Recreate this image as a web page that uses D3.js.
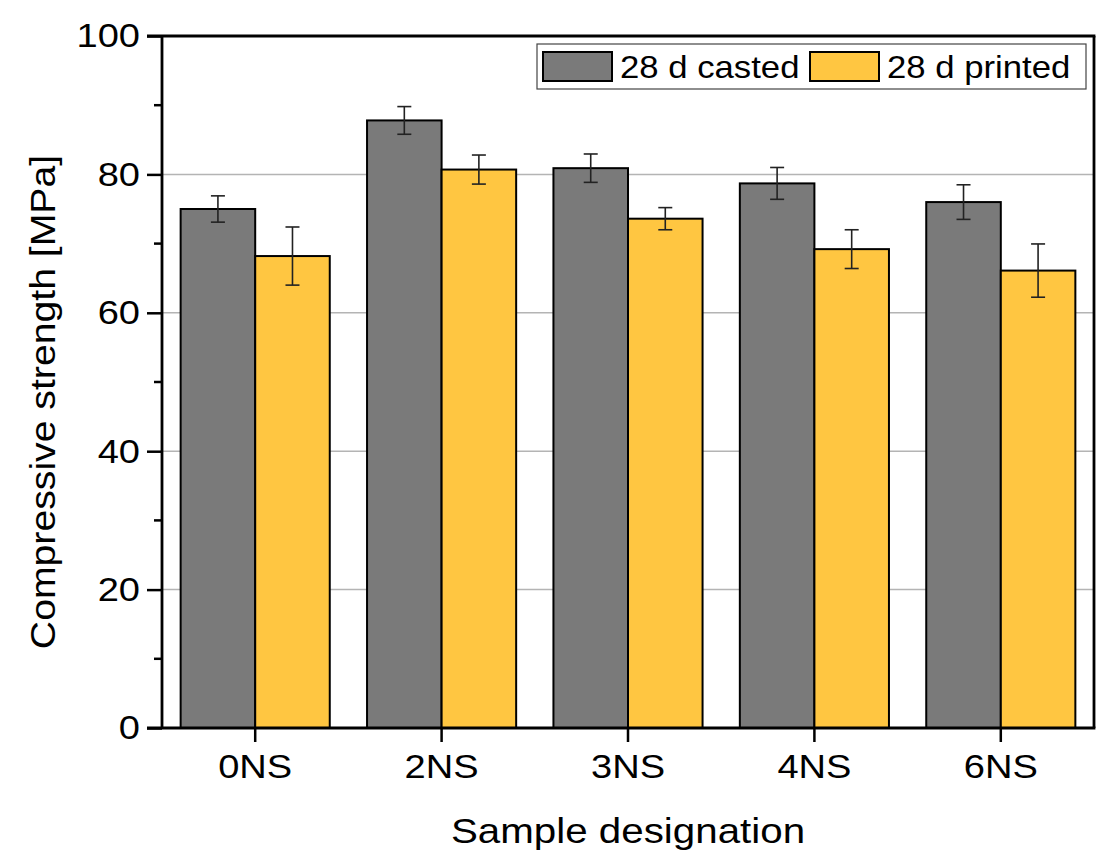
<!DOCTYPE html>
<meta charset="utf-8">
<style>
body { margin: 0; background: #fff; }
text { font-family: "Liberation Sans", Arial, sans-serif; fill: #000; }
</style>
<svg width="1100" height="855"></svg>
<script src="https://d3js.org/d3.v7.min.js"></script>
<script>

var categories = ["0NS", "2NS", "3NS", "4NS", "6NS"];
var seriesNames = ["28 d casted", "28 d printed"];
var casted = [75.0, 87.8, 80.9, 78.7, 76.0];
var castedErr = [1.9, 2.0, 2.05, 2.3, 2.5];
var printed = [68.2, 80.7, 73.6, 69.2, 66.1];
var printedErr = [4.2, 2.1, 1.6, 2.8, 3.85];
var yTicks = [0, 20, 40, 60, 80, 100];
var colors = ["#7a7a7a", "#ffc641"];

var svg = d3.select("svg");

var plotL = 162, plotR = 1094, plotT = 36, plotB = 728;
var stretch = 1.12; // reference text looks a bit wide

var x = d3.scaleBand()
  .domain(categories)
  .range([plotL, plotR])
  .paddingInner(0.2)
  .paddingOuter(0.1);

var xs = d3.scaleBand()
  .domain([0, 1])
  .range([0, x.bandwidth()]);

var y = d3.scaleLinear()
  .domain([0, 100])
  .range([plotB, plotT]);

// gridlines
svg.append("g")
  .selectAll("line")
  .data([20, 40, 60, 80])
  .enter().append("line")
  .attr("x1", plotL).attr("x2", plotR)
  .attr("y1", function(d) { return y(d); })
  .attr("y2", function(d) { return y(d); })
  .attr("stroke", "#b4b4b4")
  .attr("stroke-width", 1.5);

var rows = categories.map(function(c, i) {
  return [
    {cat: c, s: 0, v: casted[i], e: castedErr[i]},
    {cat: c, s: 1, v: printed[i], e: printedErr[i]}
  ];
});
var flat = d3.merge(rows);

// bars
svg.append("g")
  .selectAll("rect")
  .data(flat)
  .enter().append("rect")
  .attr("x", function(d) { return x(d.cat) + xs(d.s); })
  .attr("y", function(d) { return y(d.v); })
  .attr("width", xs.bandwidth())
  .attr("height", function(d) { return y(0) - y(d.v); })
  .attr("fill", function(d) { return colors[d.s]; })
  .attr("stroke", "#000")
  .attr("stroke-width", 2);

// error bars
var eb = svg.append("g")
  .selectAll("g")
  .data(flat)
  .enter().append("g")
  .attr("stroke", "#222")
  .attr("stroke-width", 1.6);

function cx(d) { return x(d.cat) + xs(d.s) + xs.bandwidth() / 2; }

eb.append("line")
  .attr("x1", cx).attr("x2", cx)
  .attr("y1", function(d) { return y(d.v + d.e); })
  .attr("y2", function(d) { return y(d.v - d.e); });

[1, -1].forEach(function(sgn) {
  eb.append("line")
    .attr("x1", function(d) { return cx(d) - 7; })
    .attr("x2", function(d) { return cx(d) + 7; })
    .attr("y1", function(d) { return y(d.v + sgn * d.e); })
    .attr("y2", function(d) { return y(d.v + sgn * d.e); });
});

// y axis
var yAxis = svg.append("g")
  .attr("transform", "translate(" + plotL + ",0)")
  .call(d3.axisLeft(y).tickValues(yTicks).tickSize(15).tickPadding(9));
yAxis.select(".domain").remove();
yAxis.selectAll(".tick line").attr("stroke", "#000").attr("stroke-width", 2.5);
yAxis.selectAll(".tick text")
  .attr("font-size", 34)
  .attr("font-family", "Liberation Sans, Arial, sans-serif")
  .attr("x", null)
  .attr("transform", "translate(-22,0) scale(" + stretch + ",1)");

// minor ticks
svg.append("g")
  .selectAll("line")
  .data([10, 30, 50, 70, 90])
  .enter().append("line")
  .attr("x1", plotL - 8).attr("x2", plotL)
  .attr("y1", function(d) { return y(d); })
  .attr("y2", function(d) { return y(d); })
  .attr("stroke", "#000")
  .attr("stroke-width", 2.5);

// x axis
var xAxis = svg.append("g")
  .attr("transform", "translate(0," + plotB + ")")
  .call(d3.axisBottom(x).tickSize(14).tickPadding(12));
xAxis.select(".domain").remove();
xAxis.selectAll(".tick line").attr("stroke", "#000").attr("stroke-width", 2.5);
xAxis.selectAll(".tick text")
  .attr("font-size", 34)
  .attr("font-family", "Liberation Sans, Arial, sans-serif")
  .attr("transform", "scale(" + stretch + ",1)");

// frame
var frame = svg.append("g").attr("stroke", "#000").attr("stroke-width", 2.8).attr("fill", "none");
frame.append("line").attr("x1", plotL).attr("x2", plotL).attr("y1", plotT).attr("y2", plotB);
frame.append("line").attr("x1", plotR).attr("x2", plotR).attr("y1", plotT).attr("y2", plotB);
frame.append("line").attr("x1", plotL - 15).attr("x2", plotR + 1.4).attr("y1", plotT).attr("y2", plotT);
frame.append("line").attr("x1", plotL - 15).attr("x2", plotR + 1.4).attr("y1", plotB).attr("y2", plotB);

// axis titles
svg.append("text")
  .attr("transform", "translate(55,402) rotate(-90) scale(" + stretch + ",1)")
  .attr("text-anchor", "middle")
  .attr("font-size", 35)
  .text("Compressive strength [MPa]");

svg.append("text")
  .attr("transform", "translate(" + (plotL + plotR) / 2 + ",843) scale(" + stretch + ",1)")
  .attr("text-anchor", "middle")
  .attr("font-size", 36)
  .text("Sample designation");

// legend
var lg = svg.append("g");
lg.append("rect")
  .attr("x", 537).attr("y", 44)
  .attr("width", 549).attr("height", 45)
  .attr("fill", "#fff")
  .attr("stroke", "#444")
  .attr("stroke-width", 1.2);

var legendX = [543, 810];
var items = lg.selectAll("g.item")
  .data(seriesNames)
  .enter().append("g")
  .attr("class", "item")
  .attr("transform", function(d, i) { return "translate(" + legendX[i] + ",52)"; });
items.append("rect")
  .attr("width", 69).attr("height", 29)
  .attr("fill", function(d, i) { return colors[i]; })
  .attr("stroke", "#000")
  .attr("stroke-width", 2);
items.append("text")
  .attr("transform", "translate(77,26) scale(" + stretch + ",1)")
  .attr("font-size", 31)
  .text(function(d) { return d; });

</script>
